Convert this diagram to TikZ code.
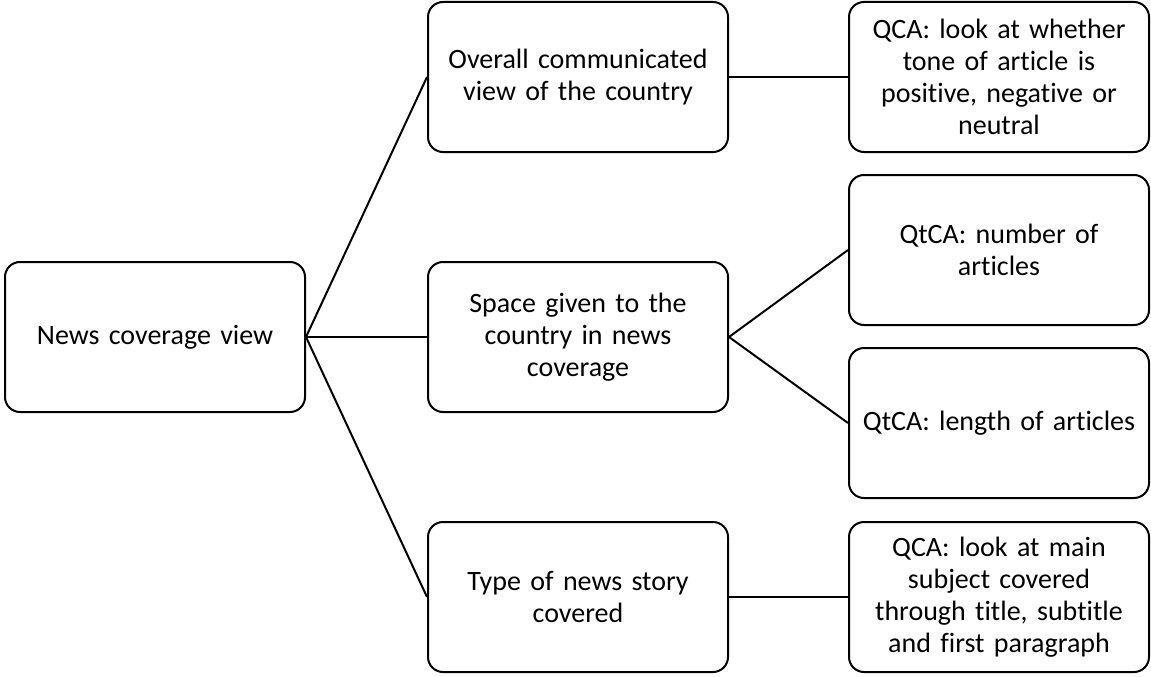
\documentclass[tikz,border=0pt]{standalone}
\usepackage{fontspec}
\setmainfont{Carlito}[Ligatures=NoCommon]
\begin{document}
\begin{tikzpicture}[x=1pt,y=-1pt,
  box/.style={draw,line width=2pt,rounded corners=15pt,minimum width=300pt,minimum height=150pt,align=center,text width=290pt,font=\fontsize{28}{32}\selectfont,inner sep=0pt},
  link/.style={line width=2pt}]
\useasboundingbox (0,0) rectangle (1151,677);
\node[box] (root) at (155,337) {News coverage view};
\node[box] (m1) at (578,77) {Overall communicated\\view of the country};
\node[box] (m2) at (578,337) {Space given to the\\country in news\\coverage};
\node[box] (m3) at (578,597) {Type of news story\\covered};
\node[box] (r1) at (999,77) {QCA: look at whether\\tone of article is\\positive, negative or\\neutral};
\node[box] (r2) at (999,250) {QtCA: number of\\articles};
\node[box] (r3) at (999,423) {QtCA: length of articles};
\node[box] (r4) at (999,597) {QCA: look at main\\subject covered\\through title, subtitle\\and first paragraph};
\draw[link] (root.east) -- (m1.west);
\draw[link] (root.east) -- (m2.west);
\draw[link] (root.east) -- (m3.west);
\draw[link] (m1.east) -- (r1.west);
\draw[link] (m2.east) -- (r2.west);
\draw[link] (m2.east) -- (r3.west);
\draw[link] (m3.east) -- (r4.west);
\end{tikzpicture}
\end{document}
